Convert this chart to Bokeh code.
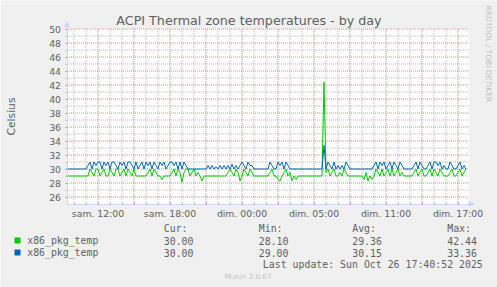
import math
from bokeh.plotting import figure
from bokeh.models import (Range1d, FixedTicker, Label, Arrow, NormalHead, BoxAnnotation,
                          LinearAxis)
from bokeh.embed import file_html
from bokeh.resources import INLINE

# ---------------- data ----------------
# hours relative to "sam. 12:00"; one sample every 10 minutes
START_HOUR = -8 / 3
STEP_HOUR = 1 / 6

green_temp = [
    29, 29, 29, 29, 29, 29, 29, 29, 29, 29, 29,
    29, 30, 29.5, 29, 30, 30, 29, 29.5, 30, 29, 29, 30, 29.5, 29, 30, 30, 29, 29.5, 30, 29, 30, 29.5, 29, 30, 29,
    29, 29, 29, 29, 29,
    29.5, 30, 29, 30, 29.5, 29, 29,
    28.5,
    29, 29, 29, 29,
    29.5, 30, 29, 30, 29.5,
    28.1,
    29.5, 30, 30, 29, 29.5, 30, 29, 29.5,
    29,
    28.3,
    29, 29, 29, 29, 29, 29, 29, 29, 29, 29, 29, 29,
    29.5, 30, 29.5, 29, 30, 29.5,
    28.3,
    29, 30, 29.5, 29, 30,
    29.5, 29, 29, 29, 29, 29, 29, 29, 29,
    29.5, 30,
    29, 29,
    28.5, 28.3, 29, 29.5, 30, 29,
    29.5, 28.3, 29, 28.5,
    29,
    29, 29, 29, 29, 29, 29, 29, 29, 29, 29, 29, 29,
    42.44,
    29.5,
    30, 29, 29.5, 30, 29, 29, 29.5, 29, 30, 29.5, 29, 29,
    29, 29, 29, 29, 29, 29,
    28.5, 29.5, 28.3, 29, 28.5,
    29, 30, 29.5, 29, 30, 29, 29.5, 30, 29, 30, 29, 29.5, 30, 29, 29.5, 29,
    29, 29, 29, 29,
    29.5, 30, 29, 29.5, 30, 29, 29, 29.5, 30, 29, 30, 29.5, 29, 30, 29.5, 29, 29, 29, 29.5, 30, 29, 29, 29.5, 30, 29, 29.5, 30,
]

blue_temp = [
    30, 30, 30, 30, 30, 30, 30, 30, 30, 30, 30,
    30.5, 31, 30, 31, 30.5, 31, 31, 30, 31, 30.5, 31, 30, 31, 31, 30.5, 30, 31, 30.5, 31, 30, 31, 31, 30.5, 30, 31,
    30, 30.5, 31, 30, 31,
    30.5, 31, 30, 31, 30.5, 30, 31,
    30.5,
    31, 30, 30.5, 31,
    31, 30.5, 31, 30, 31,
    30,
    31, 30.5, 30, 30, 30, 30, 30, 30,
    30,
    30,
    30, 30, 30.5, 30, 30.5, 30, 30.3, 30, 30.5, 30, 30.5, 30,
    30.5, 30, 30.7, 30, 30.5, 30,
    30.5,
    31, 30.5, 30, 31, 30.5,
    30.5, 30, 30, 30, 30, 30, 30, 30, 30,
    31, 30.5,
    30, 30,
    31, 30.5, 31, 30, 31, 30.5,
    30, 30, 30, 30,
    30,
    30, 30, 30, 30, 30, 30, 30, 30, 30, 30, 30, 30,
    33.36,
    30,
    31, 30.5, 30, 31, 30, 30.5, 30, 30.5, 30, 31, 30.5, 30,
    30, 30, 30, 30, 30, 30,
    30, 30, 30, 30, 30,
    30.5, 31, 30, 31, 30.5, 31, 30, 30.5, 31, 30, 31, 30.5, 30, 31, 30.5, 30,
    30, 30, 30, 30,
    30.5, 31, 30, 31, 30.5, 30, 30, 30.5, 31, 30, 31, 31, 30.5, 31, 30, 30.5, 30, 30, 31, 30.5, 30, 30, 30.5, 31, 30, 30.5, 30,
]

series_names = ["x86_pkg_temp", "x86_pkg_temp"]
series_colors = ["#00cc00", "#0066b3"]
stat_headers = ["Cur:", "Min:", "Avg:", "Max:"]
green_stats = ["30.00", "28.10", "29.36", "42.44"]
blue_stats = ["30.00", "29.00", "30.15", "33.36"]

x_tick_hours = [0, 6, 12, 18, 24, 30]
x_tick_labels = ["sam. 12:00", "sam. 18:00", "dim. 00:00", "dim. 05:00", "dim. 11:00", "dim. 17:00"]
y_ticks = list(range(26, 51, 2))

title_text = "ACPI Thermal zone temperatures - by day"
y_label = "Celsius"
side_text = "RRDTOOL / TOBI OETIKER"
last_update = "Last update: Sun Oct 26 17:40:52 2025"
version_text = "Munin 2.0.67"

# ---------------- layout helpers (pixel -> data) ----------------
X_ZERO_PX, PX_PER_H = 97.5, 12.0
Y_MIN, Y_MAX = 25, 50
Y_MIN_PX, PX_PER_U = 203.5, 7.0
PLOT_L, PLOT_R, PLOT_T = 66.5, 468.5, 28.0


def xd(px):
    return (px - X_ZERO_PX) / PX_PER_H


def yd(py):
    return Y_MIN + (Y_MIN_PX - py) / PX_PER_U


W, H = 497, 287
p = figure(width=W, height=H, output_backend="svg", toolbar_location=None,
           x_range=Range1d(xd(0), xd(W)), y_range=Range1d(yd(H), yd(0)),
           x_axis_type=None, y_axis_type=None, min_border=0, title=None)
p.background_fill_color = "#f0f0f0"
p.border_fill_color = "#f0f0f0"
p.outline_line_color = None

MAJOR = "#e08585"
MINOR = "#bdbdbd"
AXIS = "#cfd6f8"
FONT = "#606060"

# plot canvas
p.add_layout(BoxAnnotation(left=xd(PLOT_L), right=xd(PLOT_R), top=yd(PLOT_T), bottom=Y_MIN,
                           fill_color="#ffffff", fill_alpha=1, line_color=None, level="underlay"))

# grid
hours_all = list(range(-2, 31))
minor_v = [h for h in hours_all if h % 3 != 0]
major_v = [h for h in hours_all if h % 3 == 0]
minor_h = [v for v in range(27, 50, 2)]
major_h = y_ticks
x_l, x_r = xd(PLOT_L), xd(PLOT_R)
p.segment(x0=minor_v, y0=[Y_MIN] * len(minor_v), x1=minor_v, y1=[Y_MAX] * len(minor_v),
          line_color=MINOR, line_dash="1 1", line_width=1)
p.segment(x0=[x_l] * len(minor_h), y0=minor_h, x1=[x_r] * len(minor_h), y1=minor_h,
          line_color=MINOR, line_dash="1 1", line_width=1)
p.segment(x0=major_v, y0=[Y_MIN] * len(major_v), x1=major_v, y1=[Y_MAX] * len(major_v),
          line_color=MAJOR, line_dash="1 1", line_width=1)
p.segment(x0=[x_l] * len(major_h), y0=major_h, x1=[x_r] * len(major_h), y1=major_h,
          line_color=MAJOR, line_dash="1 1", line_width=1)

# data lines
t_green = [START_HOUR + i * STEP_HOUR for i in range(len(green_temp))]
t_blue = [START_HOUR + i * STEP_HOUR for i in range(len(blue_temp))]
p.line(t_green, green_temp, line_color=series_colors[0], line_width=1)
p.line(t_blue, blue_temp, line_color=series_colors[1], line_width=1)

# axes drawn at fixed positions inside the full-canvas frame
xaxis = LinearAxis(fixed_location=Y_MIN, bounds=(xd(PLOT_L), xd(PLOT_R)),
                   ticker=FixedTicker(ticks=major_v, minor_ticks=minor_v))
overrides = {h: "" for h in major_v}
for h, lab in zip(x_tick_hours, x_tick_labels):
    overrides[h] = lab
xaxis.major_label_overrides = overrides
xaxis.major_tick_in, xaxis.major_tick_out = 2, 0
xaxis.minor_tick_in, xaxis.minor_tick_out = 2, 0
xaxis.major_label_standoff = 4
p.add_layout(xaxis, "below")

yaxis = LinearAxis(fixed_location=xd(PLOT_L), bounds=(Y_MIN, yd(26)),
                   ticker=FixedTicker(ticks=y_ticks, minor_ticks=minor_h))
yaxis.major_tick_in, yaxis.major_tick_out = 0, 2
yaxis.minor_tick_in, yaxis.minor_tick_out = 0, 2
yaxis.major_label_standoff = 4
p.add_layout(yaxis, "left")

for ax in (xaxis, yaxis):
    ax.axis_line_color = AXIS
    ax.axis_line_width = 1
    ax.major_tick_line_color = MAJOR
    ax.minor_tick_line_color = MINOR
    ax.major_label_text_font = "DejaVu Sans"
    ax.major_label_text_font_size = "9.3px"
    ax.major_label_text_color = FONT

# axis arrows
p.add_layout(Arrow(end=NormalHead(size=5, fill_color=AXIS, line_color=AXIS, line_width=1),
                   x_start=xd(PLOT_L), y_start=yd(27), x_end=xd(PLOT_L), y_end=yd(21.5),
                   line_color=AXIS, line_width=1))
p.add_layout(Arrow(end=NormalHead(size=5, fill_color=AXIS, line_color=AXIS, line_width=1),
                   x_start=xd(467), y_start=Y_MIN, x_end=xd(473.5), y_end=Y_MIN,
                   line_color=AXIS, line_width=1))


def lab(text, px, py, size, color=FONT, font="DejaVu Sans", align="left", angle=0.0):
    p.add_layout(Label(x=xd(px), y=yd(py), text=text, text_font=font,
                       text_font_size=f"{size}px", text_color=color, text_align=align,
                       text_baseline="middle", angle=angle))


lab(title_text, 248.5, 19.5, 12.7, align="center")
lab(y_label, 10.5, 116, 10.7, align="center", angle=math.pi / 2)
lab(side_text, 488.3, 53.3, 7.5, color="#c0c0c0", align="center", angle=-math.pi / 2)

# legend
MONO = "DejaVu Sans Mono"
col_x = [163.3, 258.3, 351.7, 446.7]
for cx, h in zip(col_x, stat_headers):
    lab(h, cx, 227.5, 9.86, font=MONO)
row_y = [240, 252]
for ry, name, colr, stats in zip(row_y, series_names, series_colors, [green_stats, blue_stats]):
    p.add_layout(BoxAnnotation(left=xd(14), right=xd(20), top=yd(ry - 3), bottom=yd(ry + 3),
                               fill_color=colr, fill_alpha=1, line_color=None))
    lab(name, 26.7, ry, 9.86, font=MONO)
    for cx, s in zip(col_x, stats):
        lab(s, cx, ry, 9.86, font=MONO)
lab(last_update, 482.3, 263.5, 9.9, font=MONO, align="right")
lab(version_text, 247.5, 276, 7.2, color="#c4c4c4", align="center")

open("out.html", "w").write(file_html(p, INLINE))
